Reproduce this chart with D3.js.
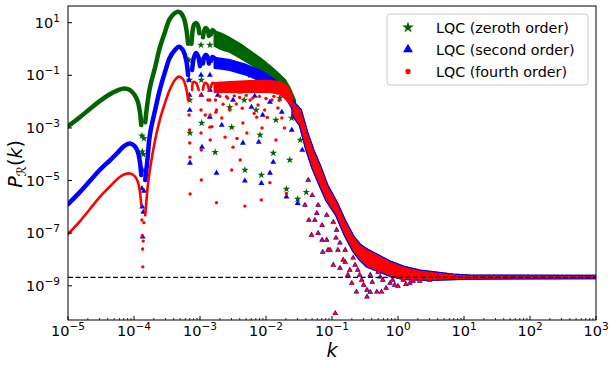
<!DOCTYPE html>
<html>
<head>
<meta charset="utf-8">
<script src="https://cdn.jsdelivr.net/npm/d3@7"></script>
<style>
  body { margin: 0; background: #fff; }
  svg { display: block; font-family: "DejaVu Sans", sans-serif; }
</style>
</head>
<body>
<div id="chart"></div>
<script>
// all values are [log10 k, log10 P]; bands are [log10 k, log10 P top, log10 P bottom]
const xTickExps = [-5, -4, -3, -2, -1, 0, 1, 2, 3];
const yTickExps = [1, -1, -3, -5, -7, -9];
const scalarAmplitude = 2.1e-9;

const zerothCurves = [
  [[-5.00,-2.93],[-4.82,-2.59],[-4.67,-2.28],[-4.52,-1.98],[-4.36,-1.71],[-4.24,-1.56],[-4.15,-1.50],[-4.06,-1.56],[-3.99,-1.75],[-3.94,-2.02],[-3.91,-2.40],[-3.89,-2.89]],
  [[-3.83,-2.78],[-3.80,-2.13],[-3.76,-1.48],[-3.68,-0.69],[-3.61,0.04],[-3.53,0.65],[-3.46,1.14],[-3.38,1.37],[-3.33,1.42],[-3.29,1.37],[-3.24,1.14],[-3.21,0.80],[-3.18,0.20]],
  [[-3.13,0.20],[-3.11,0.72],[-3.09,0.93],[-3.06,0.99],[-3.03,0.88],[-3.01,0.60]],
  [[-2.955,0.45],[-2.93,0.75],[-2.91,0.80],[-2.885,0.72],[-2.865,0.50]],
  [[-2.835,0.55],[-2.81,0.72],[-2.785,0.66]]
];
const zerothBand = [
  [-2.78,0.68,0.12],[-2.70,0.61,0.02],[-2.62,0.52,-0.06],[-2.55,0.42,-0.11],
  [-2.39,0.19,-0.34],[-2.24,-0.08,-0.57],[-2.09,-0.34,-0.80],[-1.94,-0.65,-1.10],[-1.82,-0.91,-1.37],
  [-1.71,-1.18,-1.67],[-1.64,-1.48,-1.94],[-1.56,-1.94,-2.24]
];
const zerothScatter = [
  [-3.88,-3.30],[-3.875,-3.90],[-3.868,-4.60],[-3.86,-4.00],[-3.85,-3.40],[-3.17,-0.42],[-3.16,-1.18],[-3.155,-1.94],
  [-3.152,-3.19],[-2.985,0.15],[-2.985,-0.42],[-2.98,-1.18],[-2.975,-2.81],[-2.85,0.15],[-2.848,-0.42],
  [-2.77,-3.92],[-2.55,-2.21],[-2.52,-2.97],[-2.32,-4.60],[-2.09,-3.27],
  [-2.07,-4.79],[-1.89,-3.95],[-1.69,-5.32],[-1.52,-5.70],[-1.39,-5.44],[-2.67,-0.49],[-2.45,-0.72],[-2.24,-0.99],
  [-2.02,-1.37],[-1.79,-1.86],[-2.33,-1.94],[-2.15,-2.32],[-1.85,-2.70],[-1.61,-2.62],[-1.48,-3.46],[-1.64,-4.22]
];

const secondCurves = [
  [[-5.00,-5.90],[-4.82,-5.44],[-4.67,-5.02],[-4.52,-4.60],[-4.36,-4.22],[-4.24,-3.92],[-4.15,-3.69],[-4.06,-3.59],[-3.99,-3.69],[-3.94,-3.92],[-3.91,-4.30],[-3.89,-4.79]],
  [[-3.83,-4.98],[-3.80,-4.30],[-3.76,-3.27],[-3.68,-2.32],[-3.61,-1.56],[-3.53,-0.87],[-3.46,-0.34],[-3.38,-0.04],[-3.32,0.09],[-3.26,-0.04],[-3.21,-0.42],[-3.18,-0.99]],
  [[-3.12,-0.80],[-3.09,-0.30],[-3.06,-0.15],[-3.03,-0.27],[-3.00,-0.65]],
  [[-2.955,-0.55],[-2.93,-0.27],[-2.91,-0.23],[-2.885,-0.30],[-2.865,-0.55]],
  [[-2.835,-0.45],[-2.81,-0.30],[-2.785,-0.34]]
];
const secondBand = [
  [-2.78,-0.33,-0.72],[-2.70,-0.36,-0.74],[-2.55,-0.42,-0.80],[-2.29,-0.61,-0.99],
  [-2.05,-0.87,-1.25],[-1.83,-1.25,-1.56],[-1.68,-1.67,-1.94],[-1.59,-2.02,-2.32]
];
const secondScatter = [
  [-3.88,-5.30],[-3.875,-6.00],[-3.868,-7.14],[-3.86,-6.20],[-3.85,-5.40],[-3.17,-1.18],[-3.16,-1.75],[-3.155,-2.32],
  [-3.152,-4.33],[-2.985,-0.99],[-2.98,-1.75],[-2.97,-3.73],[-2.85,-0.99],[-2.848,-1.56],[-2.85,-2.59],
  [-2.75,-4.71],[-2.67,-2.89],[-2.50,-1.94],[-2.35,-3.57],
  [-2.32,-5.01],[-2.22,-2.21],[-2.11,-3.54],[-2.07,-5.10],[-2.05,-2.51],[-1.94,-4.71],[-1.89,-4.30],[-1.69,-5.62],
  [-1.52,-5.86],[-2.62,-1.48],[-2.39,-1.63],[-2.17,-1.79],[-1.94,-2.02],[-1.76,-2.40],[-2.73,-1.75],[-1.61,-3.08],[-1.45,-3.84]
];

const fourthCurves = [
  [[-5.00,-7.03],[-4.82,-6.55],[-4.67,-6.09],[-4.52,-5.63],[-4.36,-5.21],[-4.24,-4.91],[-4.15,-4.77],[-4.06,-4.73],[-3.99,-4.83],[-3.94,-5.06],[-3.91,-5.44],[-3.89,-5.93]],
  [[-3.83,-6.32],[-3.79,-5.17],[-3.76,-4.60],[-3.68,-3.46],[-3.61,-2.70],[-3.53,-2.05],[-3.46,-1.56],[-3.38,-1.18],[-3.32,-1.05],[-3.26,-1.14],[-3.21,-1.48],[-3.18,-1.94]],
  [[-3.12,-1.56],[-3.10,-1.25],[-3.06,-1.29],[-3.02,-1.56]],
  [[-2.955,-1.55],[-2.93,-1.30],[-2.91,-1.29],[-2.885,-1.35],[-2.865,-1.55]],
  [[-2.835,-1.45],[-2.81,-1.29],[-2.785,-1.31]]
];
const fourthBand = [
  [-2.78,-1.29,-1.63],[-2.55,-1.25,-1.63],
  [-2.24,-1.22,-1.63],[-1.94,-1.22,-1.63],[-1.79,-1.25,-1.71],[-1.68,-1.41,-1.94],[-1.61,-1.75,-2.17]
];
const fourthScatter = [
  [-3.88,-6.50],[-3.875,-7.10],[-3.87,-7.60],[-3.866,-8.28],[-3.86,-7.30],[-3.85,-6.60],[-3.17,-1.94],[-3.165,-2.51],
  [-3.16,-3.08],[-3.155,-3.57],[-3.152,-4.11],[-3.15,-5.51],[-2.985,-1.75],[-2.985,-2.32],[-2.985,-3.19],[-2.98,-3.84],
  [-2.98,-4.98],[-2.85,-1.94],[-2.848,-2.51],[-2.85,-2.97],[-2.845,-3.46],[-2.765,-1.94],[-2.76,-2.40],
  [-2.82,-2.95],[-2.67,-2.62],[-2.62,-3.35],[-2.50,-3.73],
  [-2.35,-2.81],[-2.29,-3.19],[-2.14,-2.59],[-2.02,-2.32],[-1.91,-1.94],[-2.24,-1.94],[-2.55,-2.32],[-2.75,-2.32],
  [-2.88,-1.94],[-2.60,-1.81],[-2.75,-5.84],[-2.52,-4.60],[-2.32,-5.97],[-2.07,-5.74],[-1.94,-5.08],[-1.69,-5.49],
  [-2.45,-2.09],[-2.12,-2.13],[-1.82,-2.24],[-2.39,-4.22],[-2.92,-2.51],[-2.06,-3.00],[-1.76,-2.62],[-1.85,-3.46],
  [-2.70,-1.80],[-2.58,-1.86],[-2.48,-1.78],[-2.40,-1.84],[-2.30,-1.76],[-2.20,-1.86],[-2.10,-1.80],[-2.00,-1.88],
  [-1.88,-1.80],[-1.80,-1.95],[-2.65,-2.10],[-2.36,-2.25],[-2.18,-2.45],[-1.98,-2.60],[-1.72,-3.00],[-2.44,-3.40]
];

// high-k part where the three orders coincide
const tailBand = [
  [-1.59,-2.02,-2.51],[-1.48,-2.32,-2.89],[-1.38,-3.19,-3.84],[-1.29,-3.84,-4.52],[-1.18,-4.49,-5.17],
  [-1.08,-5.17,-5.74],[-0.93,-5.86,-6.31],[-0.80,-6.58,-7.07],[-0.68,-7.14,-7.64],[-0.58,-7.45,-7.98],
  [-0.47,-7.64,-8.25],[-0.27,-7.90,-8.45],[-0.12,-8.10,-8.60],[0.08,-8.29,-8.72],[0.33,-8.44,-8.75],
  [0.59,-8.52,-8.75],[0.83,-8.59,-8.73],[1.09,-8.63,-8.71],[3.00,-8.64,-8.69]
];
const tailScatter = [
  [-1.31,-7.07],[-1.21,-7.00],[-1.23,-6.24],[-1.08,-6.31],[-0.98,-6.58],[-0.93,-6.88],[-0.88,-7.37],[-0.83,-8.02],
  [-0.98,-8.21],[-0.88,-8.33],[-0.73,-8.40],[-0.68,-7.94],[-0.61,-8.40],[-0.55,-8.78],[-0.63,-9.23],[-0.47,-9.16],
  [-0.95,-10.05],[-0.32,-8.28],[-0.27,-8.66],[-0.23,-8.78],[-0.32,-9.23],[-0.25,-9.23],[-0.15,-8.40],[-0.08,-8.78],
  [-0.05,-8.97],[0.03,-8.66],[0.08,-8.78],[-0.47,-9.42],[-1.41,-5.93],[-1.35,-6.50],[-1.15,-7.26],[-1.06,-7.64],
  [-0.80,-7.64],[-0.42,-8.59],[0.18,-8.90],[0.33,-8.82],[0.48,-8.78],
  [-1.36,-4.98],[-1.30,-5.56],[-1.21,-5.93],[-1.15,-6.70],[-1.08,-7.26],[-1.03,-7.64],[-0.91,-7.64],[-0.80,-8.10],
  [-0.76,-8.59],[-0.70,-8.90],[-0.58,-8.59],[-0.52,-8.97],[-0.42,-9.24],[-0.39,-8.86],[-0.18,-9.09],[-0.12,-8.90],
  [0.00,-9.01],[0.12,-8.94],[0.23,-8.82],[-1.14,-7.72],[-1.26,-6.50],[-0.94,-7.18],[-0.65,-8.21],[-0.30,-8.48]
];

const series = [
  {label: "LQC (zeroth order)", color: "#006400", symbol: d3.symbolStar, size: 18, lw: 4.5, tailLw: 3, tailPts: false,
   curves: zerothCurves, band: zerothBand, scatter: zerothScatter},
  {label: "LQC (second order)", color: "#0000ff", symbol: d3.symbolTriangle, size: 15, lw: 4.5, tailLw: 3.2, tailPts: true,
   curves: secondCurves, band: secondBand, scatter: secondScatter},
  {label: "LQC (fourth order)", color: "#ff0000", symbol: d3.symbolCircle, size: 9, lw: 2.6, tailLw: 1, tailPts: true,
   curves: fourthCurves, band: fourthBand, scatter: fourthScatter}
];

const W = 616, H = 368;
const svg = d3.select("#chart").append("svg").attr("width", W).attr("height", H);

const x = d3.scaleLog().domain([1e-5, 1e3]).range([68, 596]);
const y = d3.scaleLog().domain([10 ** -10.3, 10 ** 1.635]).range([320, 6]);
const X = u => x(10 ** u), Y = v => y(10 ** v);

svg.append("clipPath").attr("id", "plot")
  .append("rect").attr("x", 68).attr("y", 6).attr("width", 528).attr("height", 314);

const g = svg.append("g").attr("clip-path", "url(#plot)");

const line = d3.line().x(d => X(d[0])).y(d => Y(d[1])).curve(d3.curveCatmullRom.alpha(0.5));
const area = d3.area().x(d => X(d[0])).y0(d => Y(d[2])).y1(d => Y(d[1]));

series.forEach(s => {
  const sg = g.append("g");
  sg.selectAll(".curve").data(s.curves).join("path")
    .attr("d", line).attr("fill", "none").attr("stroke", s.color)
    .attr("stroke-width", s.lw).attr("stroke-linecap", "round");
  sg.append("path").datum(s.band).attr("d", area)
    .attr("fill", s.color).attr("stroke", s.color).attr("stroke-width", 2).attr("stroke-linejoin", "round");
  sg.append("path").datum(tailBand).attr("d", area)
    .attr("fill", s.color).attr("stroke", s.color).attr("stroke-width", s.tailLw).attr("stroke-linejoin", "round");
  const pts = s.tailPts ? s.scatter.concat(tailScatter) : s.scatter;
  sg.selectAll(".pt").data(pts).join("path")
    .attr("transform", d => `translate(${X(d[0])},${Y(d[1])})`)
    .attr("d", d3.symbol().type(s.symbol).size(s.size))
    .attr("fill", s.color);
});

// reference amplitude
g.append("line")
  .attr("x1", 68).attr("x2", 596)
  .attr("y1", y(scalarAmplitude)).attr("y2", y(scalarAmplitude))
  .attr("stroke", "#000").attr("stroke-width", 1.3).attr("stroke-dasharray", "5,2.5");

// frame
svg.append("rect").attr("x", 68).attr("y", 6).attr("width", 528).attr("height", 314)
  .attr("fill", "none").attr("stroke", "#000").attr("stroke-width", 1);

// x ticks (inside)
const xt = svg.append("g");
xTickExps.forEach(e => {
  xt.append("line").attr("x1", X(e)).attr("x2", X(e)).attr("y1", 320).attr("y2", 316).attr("stroke", "#000");
  if (e < 3) for (let m = 2; m <= 9; m++) {
    const xx = x(m * 10 ** e);
    xt.append("line").attr("x1", xx).attr("x2", xx).attr("y1", 320).attr("y2", 318).attr("stroke", "#000").attr("stroke-width", 0.8);
  }
  const t = xt.append("text").attr("x", X(e)).attr("y", 336).attr("text-anchor", "middle")
    .attr("font-size", 14.5).attr("fill", "#000");
  t.append("tspan").text("10");
  t.append("tspan").attr("dy", -6).attr("font-size", 10.5).text(e < 0 ? "\u2212" + (-e) : String(e));
});

// y ticks (inside)
const yt = svg.append("g");
yTickExps.forEach(e => {
  yt.append("line").attr("x1", 68).attr("x2", 72).attr("y1", Y(e)).attr("y2", Y(e)).attr("stroke", "#000");
  const t = yt.append("text").attr("x", 60).attr("y", Y(e) + 5).attr("text-anchor", "end")
    .attr("font-size", 14.5).attr("fill", "#000");
  t.append("tspan").text("10");
  t.append("tspan").attr("dy", -6).attr("font-size", 10.5).text(e < 0 ? "\u2212" + (-e) : String(e));
});

// axis labels
svg.append("text").attr("x", 332).attr("y", 357).attr("text-anchor", "middle")
  .attr("font-size", 19).attr("font-style", "italic").text("k");
const yl = svg.append("text").attr("transform", "translate(22,164) rotate(-90)")
  .attr("text-anchor", "middle").attr("font-size", 19);
yl.append("tspan").attr("font-style", "italic").text("P");
yl.append("tspan").attr("dy", 4).attr("font-size", 13).attr("font-style", "italic").text("\u211B");
yl.append("tspan").attr("dy", -4).text("(");
yl.append("tspan").attr("font-style", "italic").text("k");
yl.append("tspan").text(")");

// legend
const lg = svg.append("g");
lg.append("rect").attr("x", 387).attr("y", 14).attr("width", 201).attr("height", 71).attr("rx", 3)
  .attr("fill", "#fff").attr("fill-opacity", 0.8).attr("stroke", "#cccccc").attr("stroke-width", 1);
series.forEach((s, i) => {
  const cy = 27.5 + i * 22;
  lg.append("path").attr("transform", `translate(408,${cy})`)
    .attr("d", d3.symbol().type(s.symbol).size(i === 2 ? 22 : 42)).attr("fill", s.color);
  lg.append("text").attr("x", 436).attr("y", cy + 5).attr("font-size", 14.3).attr("fill", "#000").text(s.label);
});
</script>
</body>
</html>
